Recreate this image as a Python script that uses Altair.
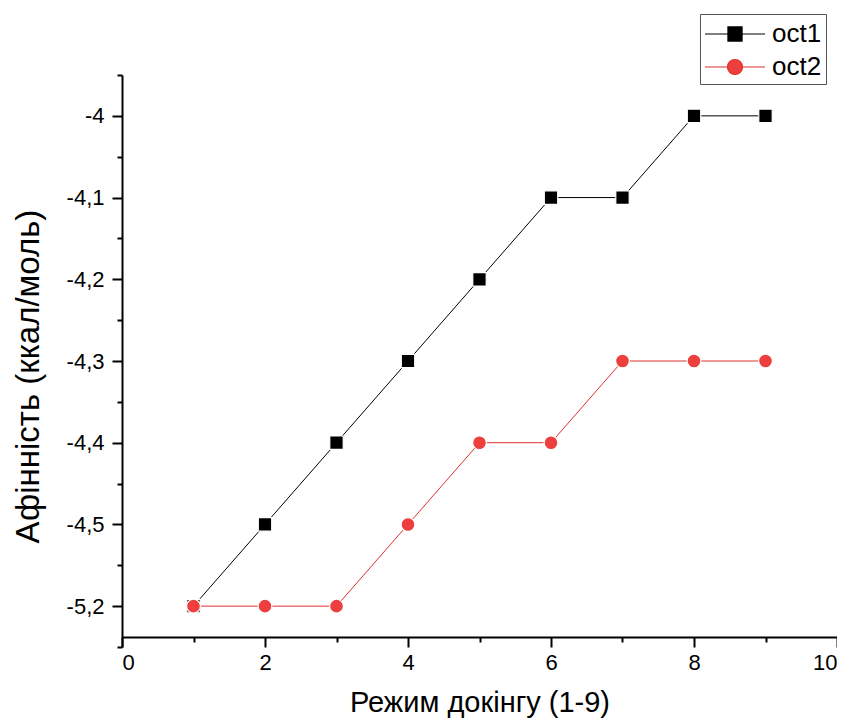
import altair as alt
import pandas as pd

# ---- data ----
docking_mode = [1, 2, 3, 4, 5, 6, 7, 8, 9]
oct1 = [-5.2, -4.5, -4.4, -4.3, -4.2, -4.1, -4.1, -4.0, -4.0]
oct2 = [-5.2, -5.2, -5.2, -4.5, -4.4, -4.4, -4.3, -4.3, -4.3]
series_names = ["oct1", "oct2"]

# axis break: the value -5.2 is drawn in the slot of -4.6 (as on the original axis)
BREAK_VALUE = -5.2
BREAK_SLOT = -4.6

y_major_values = [-4.6, -4.5, -4.4, -4.3, -4.2, -4.1, -4.0]
y_major_labels = ["-5,2", "-4,5", "-4,4", "-4,3", "-4,2", "-4,1", "-4"]
y_minor_values = [-4.65, -4.55, -4.45, -4.35, -4.25, -4.15, -4.05, -3.95]
x_major_values = [0, 2, 4, 6, 8, 10]
x_minor_values = [1, 3, 5, 7, 9]

FONT = "Liberation Sans"
RED = "#ee3f3f"
RED_LINE = "#e03030"

rows = []
for name, vals in zip(series_names, [oct1, oct2]):
    for m, v in zip(docking_mode, vals):
        pos = BREAK_SLOT if abs(v - BREAK_VALUE) < 1e-9 else v
        rows.append({"series": name, "mode": m, "value": v, "pos": pos})
df = pd.DataFrame(rows)

# label expression built from the label lists
expr = "''"
for val, lab in zip(y_major_values, y_major_labels):
    expr = f"abs(datum.value - ({val})) < 0.001 ? '{lab}' : ({expr})"

xscale = alt.Scale(domain=[0, 10], nice=False, zero=False)
yscale = alt.Scale(domain=[-4.65, -3.95], nice=False, zero=False)

common_axis = dict(domainColor="black", domainWidth=2, tickColor="black", tickWidth=2,
                   grid=False, labelFont=FONT, labelColor="black", titleFont=FONT,
                   titleColor="black", titleFontWeight="normal")

x_major_axis = alt.Axis(values=x_major_values, orient="bottom", offset=-10, tickSize=10,
                        labelFontSize=22, labelPadding=5, title="Режим докінгу (1-9)",
                        titleFontSize=29, titlePadding=15, format="d", **common_axis)
y_major_axis = alt.Axis(values=y_major_values, orient="left", tickSize=10,
                        labelFontSize=22, labelPadding=8, labelExpr=expr,
                        title="Афінність (ккал/моль)", titleFontSize=33, titlePadding=21,
                        titleY=301, **common_axis)
x_minor_axis = alt.Axis(values=x_minor_values, orient="bottom", offset=-10, tickSize=5,
                        labels=False, domain=False, title=None, tickColor="black",
                        tickWidth=2, grid=False)
y_minor_axis = alt.Axis(values=y_minor_values, orient="left", tickSize=5,
                        labels=False, domain=False, title=None, tickColor="black",
                        tickWidth=2, grid=False)

base = alt.Chart(df)

def sel(name):
    return base.transform_filter(alt.datum.series == name)

line1 = sel("oct1").mark_line(color="black", strokeWidth=1).encode(
    x=alt.X("mode:Q", scale=xscale, axis=x_major_axis),
    y=alt.Y("pos:Q", scale=yscale, axis=y_major_axis),
)
pts1 = sel("oct1").mark_point(shape="square", filled=True, fill="black", opacity=1,
                             size=180, stroke="white", strokeWidth=1.2).encode(
    x=alt.X("mode:Q", axis=None), y=alt.Y("pos:Q", axis=None))
line2 = sel("oct2").mark_line(color=RED_LINE, strokeWidth=1).encode(
    x=alt.X("mode:Q", axis=None), y=alt.Y("pos:Q", axis=None))
pts2 = sel("oct2").mark_point(shape="circle", filled=True, fill=RED, opacity=1,
                             size=190, stroke="white", strokeWidth=1.2).encode(
    x=alt.X("mode:Q", axis=None), y=alt.Y("pos:Q", axis=None))

minor = base.mark_point(opacity=0).encode(
    x=alt.X("mode:Q", axis=x_minor_axis), y=alt.Y("pos:Q", axis=y_minor_axis))

# legend: line - marker - line symbols (custom paths, unit = sqrt(size)/2 px)
sq_path = "M-1,0H0.53M1.47,0H3M0.53,-0.47H1.47V0.47H0.53Z"
ci_path = "M-1,0H0.5M1.5,0H3M1.5,0A0.5,0.5,0,1,1,0.5,0A0.5,0.5,0,1,1,1.5,0Z"
leg_df = pd.DataFrame({"series": series_names, "mode": [1, 1], "pos": [-5.0, -5.0]})
legend = alt.Legend(title=None, orient="none", legendX=578, legendY=-61, padding=4,
                    strokeColor="#555555", fillColor="white", labelFont=FONT,
                    labelFontSize=26, labelColor="black", symbolSize=900,
                    labelOffset=36, rowPadding=4, symbolStrokeWidth=1.2,
                    symbolOpacity=1, labelLimit=200)
leg = alt.Chart(leg_df).mark_point(clip=True, filled=True, opacity=1, size=900,
                                   strokeWidth=1.2).encode(
    x=alt.X("mode:Q", axis=None),
    y=alt.Y("pos:Q", axis=None),
    shape=alt.Shape("series:N", scale=alt.Scale(domain=series_names, range=[sq_path, ci_path]),
                    legend=legend),
    fill=alt.Fill("series:N", scale=alt.Scale(domain=series_names, range=["black", RED]),
                  legend=legend),
    stroke=alt.Stroke("series:N", scale=alt.Scale(domain=series_names, range=["black", RED_LINE]),
                      legend=legend),
)

chart = alt.layer(line1, line2, pts1, pts2, minor, leg).resolve_axis(
    x="independent", y="independent"
).properties(
    width=715, height=572,
    autosize=alt.AutoSizeParams(type="none"),
    padding={"left": 114, "top": 67, "right": 0, "bottom": 71},
    background="white",
).configure_view(stroke=None)

chart.save("out.html", embed_options={"renderer": "svg", "actions": False})
